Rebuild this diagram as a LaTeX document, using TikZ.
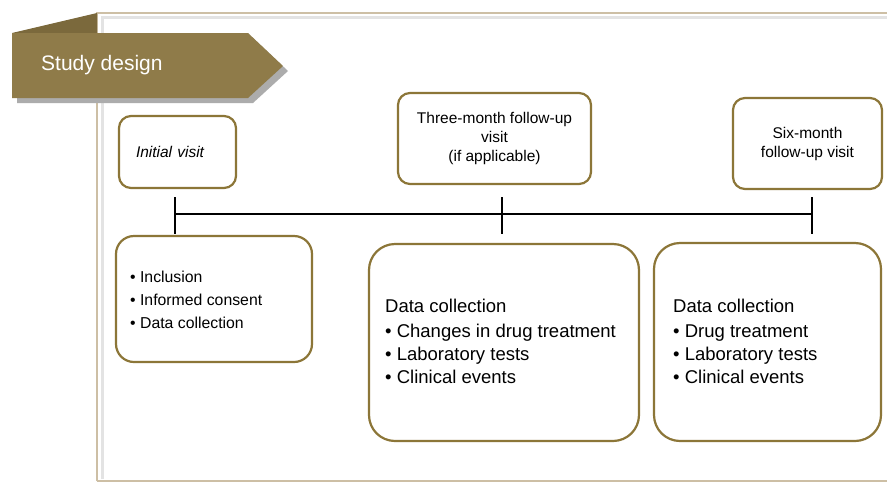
\documentclass[tikz,border=0pt]{standalone}
\usepackage{fontspec}
\setmainfont{Liberation Sans}
\definecolor{gold}{HTML}{8F7B49}
\definecolor{golddark}{HTML}{7B693C}
\definecolor{goldline}{HTML}{8C7638}
\definecolor{frameline}{HTML}{CDBFA5}
\tikzset{
  visitbox/.style={draw=goldline, line width=2.2pt, rounded corners=12pt, align=center,
    inner sep=0pt, font=\fontsize{15.5}{19}\selectfont},
  databox/.style={draw=goldline, line width=2.2pt, rounded corners=26pt, inner sep=0pt},
  datatext/.style={anchor=west, align=left, inner sep=0pt, font=\fontsize{18.5}{23}\selectfont},
  tick/.style={line width=1.4pt}
}
\begin{document}
\begin{tikzpicture}[x=1pt,y=-1pt]
\useasboundingbox (0,0) rectangle (887,483);
\fill[white] (0,0) rectangle (887,483);
% frame
\draw[gray!22, line width=3pt] (102,479) |- (887,17);
\draw[frameline, line width=1.5pt] (97,481) |- (887,13);
\draw[frameline, line width=1.5pt] (97,481) -- (887,481);
% banner
\fill[gray!65] (17,38) -- (253,38) -- (288,71) -- (253,103) -- (17,103) -- cycle;
\fill[golddark] (12,33) -- (97,13) -- (97,33) -- cycle;
\fill[gold] (12,33) -- (248,33) -- (283,66) -- (248,98) -- (12,98) -- cycle;
\node[anchor=west, text=white, inner sep=0pt, font=\fontsize{21}{25}\selectfont] (title) at (41,65) {Study design};
% visits
\node[visitbox, minimum width=117pt, minimum height=72pt, text width=83pt, align=left] (initial) at (177.5,152) {\itshape Initial visit};
\node[visitbox, minimum width=193pt, minimum height=91pt] (threemonth) at (494.5,138.5) {Three-month follow-up\\visit\\(if applicable)};
\node[visitbox, minimum width=149pt, minimum height=91pt] (sixmonth) at (807.5,143.5) {Six-month\\follow-up visit};
% timeline
\coordinate (tA) at (175,214);
\coordinate (tB) at (502,214);
\coordinate (tC) at (812,214);
\draw[tick] (tA) -- (tC);
\foreach \t in {tA,tB,tC}
  \draw[tick] ([yshift=17pt]\t) -- ([yshift=-20pt]\t);
% data collection
\node[databox, rounded corners=18pt, minimum width=196pt, minimum height=126pt] (inclusion) at (214,299) {};
\node[databox, minimum width=270pt, minimum height=197pt] (datathree) at (504,342.5) {};
\node[databox, minimum width=227pt, minimum height=198pt] (datasix) at (767.5,342) {};
\node[datatext, font=\fontsize{15.8}{23}\selectfont] (inclusiontext) at (130,300)
  {\textbullet\ Inclusion\\\textbullet\ Informed consent\\\textbullet\ Data collection};
\node[datatext] (datathreetext) at (385,341)
  {Data collection\\[2pt]\textbullet\ Changes in drug treatment\\\textbullet\ Laboratory tests\\\textbullet\ Clinical events};
\node[datatext] (datasixtext) at (673,341)
  {Data collection\\[2pt]\textbullet\ Drug treatment\\\textbullet\ Laboratory tests\\\textbullet\ Clinical events};
\end{tikzpicture}
\end{document}
